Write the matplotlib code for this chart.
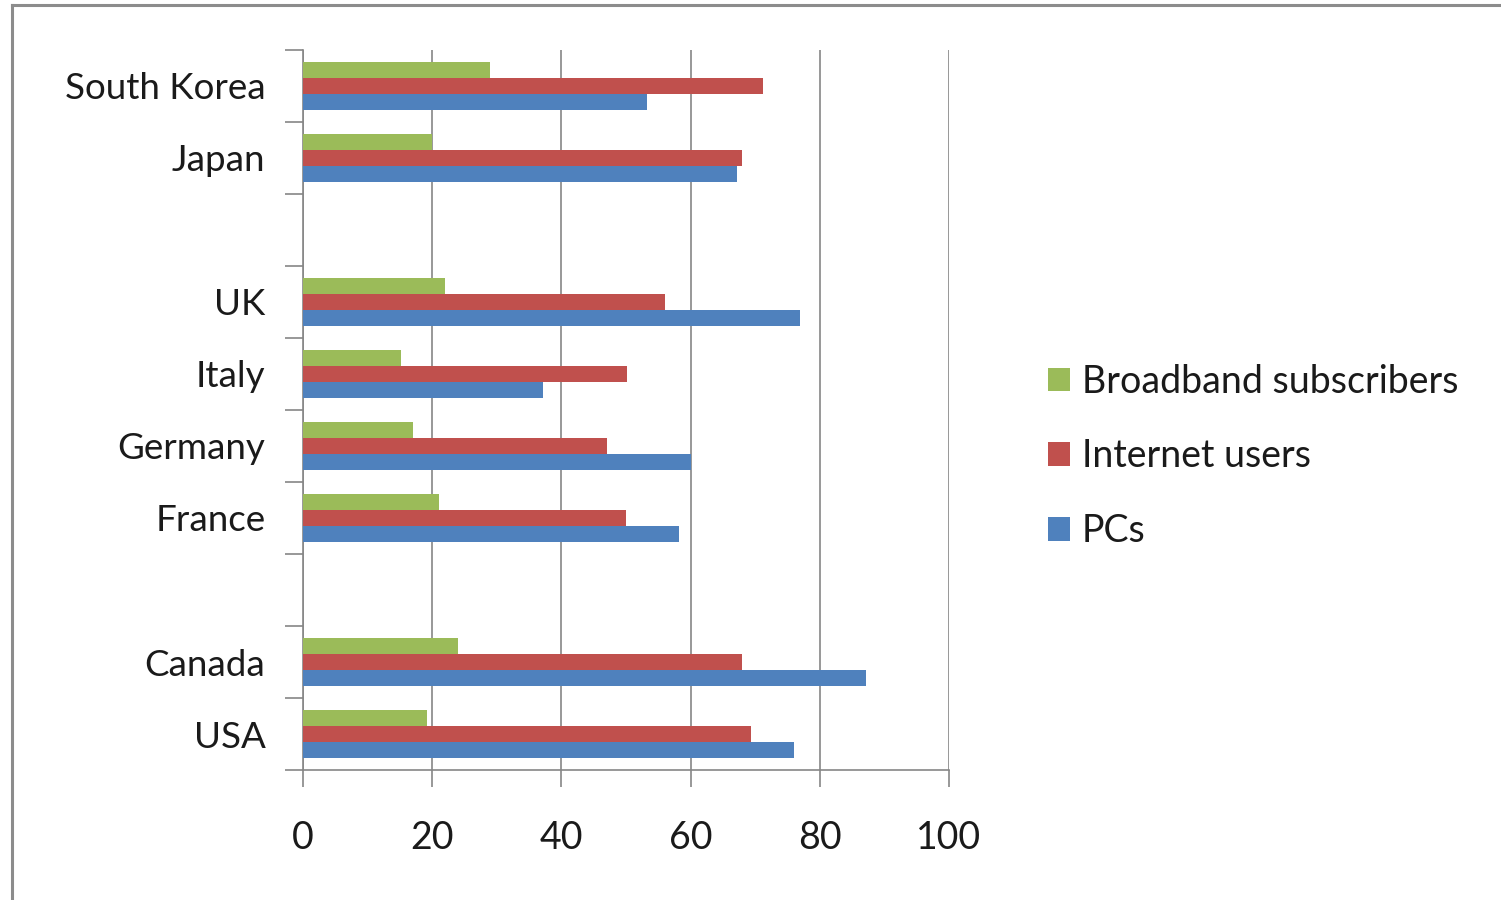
import numpy as np
import matplotlib
matplotlib.use("Agg")
import matplotlib.pyplot as plt
from matplotlib.lines import Line2D

# Countries from bottom to top; empty strings are the gaps between regions
countries = ["USA", "Canada", "", "France", "Germany", "Italy", "UK", "", "Japan", "South Korea"]
pcs = [76, 87.2, 0, 58.2, 60, 37.2, 77, 0, 67.2, 53.2]
internet_users = [69.3, 68, 0, 50, 47, 50.2, 56, 0, 68, 71.2]
broadband = [19.2, 24, 0, 21, 17, 15.2, 22, 0, 20, 29]
x_ticks = [0, 20, 40, 60, 80, 100]

GREEN = "#9BBB59"
RED = "#C0504D"
BLUE = "#4F81BD"
GRAY = "#868686"
TEXT = "#1a1a1a"

plt.rcParams["font.family"] = ["Lato", "DejaVu Sans"]

fig = plt.figure(figsize=(15.01, 9.0), dpi=100)
ax = fig.add_axes([303 / 1501, 1 - 770 / 900, (949 - 303) / 1501, 720 / 900])

y = np.arange(len(countries))
h = 0.222
ax.barh(y - h, pcs, height=h, color=BLUE, label="PCs", zorder=3)
ax.barh(y, internet_users, height=h, color=RED, label="Internet users", zorder=3)
ax.barh(y + h, broadband, height=h, color=GREEN, label="Broadband subscribers", zorder=3)

ax.set_xlim(0, 100)
ax.set_ylim(-0.5, len(countries) - 0.5)

ax.set_xticks(x_ticks)
ax.set_xticklabels([str(t) for t in x_ticks], fontsize=27, color=TEXT)
ax.tick_params(axis="x", length=12, width=1.2, color=GRAY, pad=24)

ax.set_yticks(y)
ax.set_yticklabels(countries, fontsize=26.5, color=TEXT)
ax.tick_params(axis="y", which="major", length=0, pad=27)
ax.set_yticks(np.arange(-0.5, len(countries)), minor=True)
ax.tick_params(axis="y", which="minor", length=13, width=1.2, color=GRAY)

ax.grid(axis="x", color=GRAY, linewidth=1.2, zorder=0)
for side in ["top", "right"]:
    ax.spines[side].set_visible(False)
for side in ["left", "bottom"]:
    ax.spines[side].set_color(GRAY)
    ax.spines[side].set_linewidth(1.2)

handles, labels = ax.get_legend_handles_labels()
leg = fig.legend(handles[::-1], labels[::-1], loc="upper left",
                 bbox_to_anchor=(1029 / 1501, 1 - 345 / 900),
                 frameon=False, fontsize=27, handlelength=0.6, handleheight=0.6,
                 handletextpad=0.3, labelspacing=1.03, borderpad=0)
for t in leg.get_texts():
    t.set_color(TEXT)

# outer chart border
x0, y0 = 12 / 1501, 1 - 5 / 900
fig.add_artist(Line2D([x0, x0], [0, y0], color="#8c8c8c", linewidth=2.2))
fig.add_artist(Line2D([x0, 1], [y0, y0], color="#8c8c8c", linewidth=2.2))

fig.savefig("out.png", dpi=100, facecolor="white")
